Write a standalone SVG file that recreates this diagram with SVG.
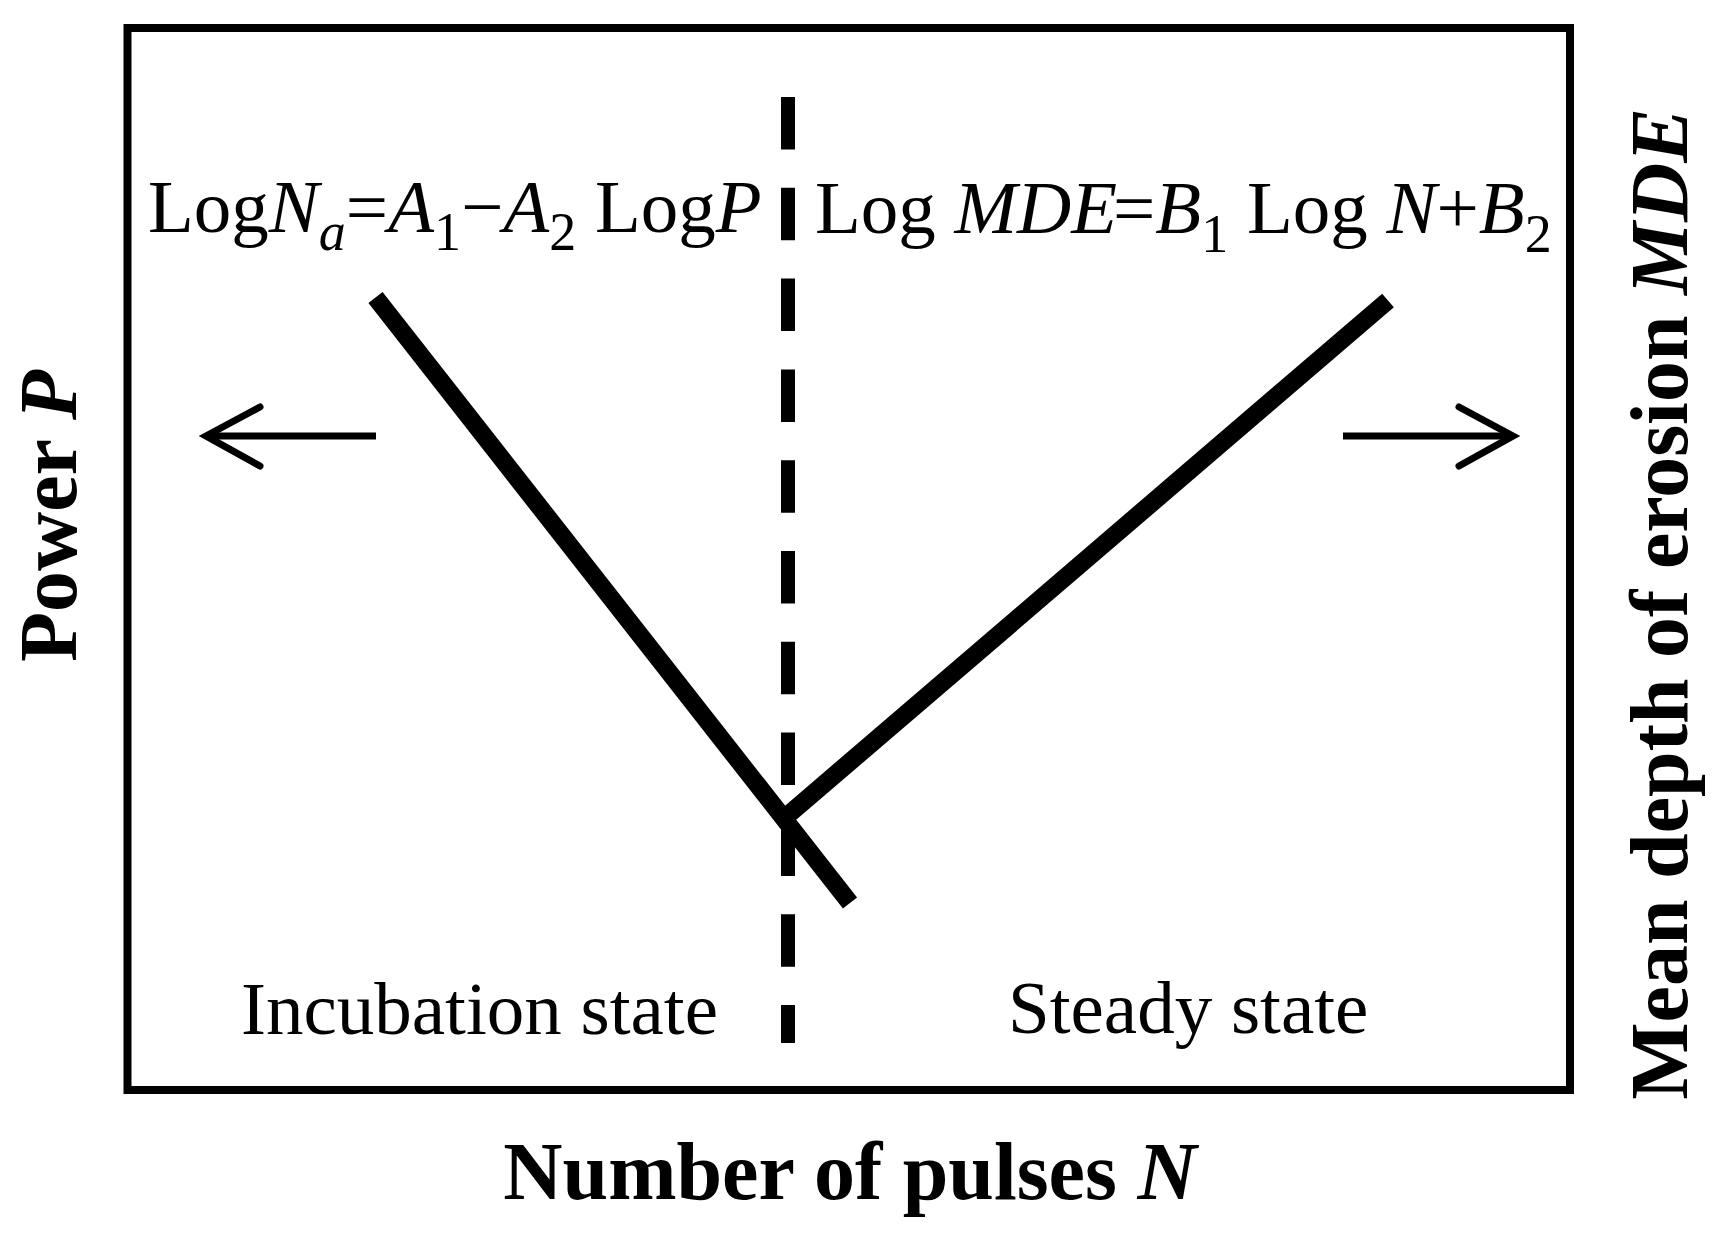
<svg xmlns="http://www.w3.org/2000/svg" width="1716" height="1236" viewBox="0 0 1716 1236">
<style>
.t{font-family:"Liberation Serif","Times New Roman",serif;fill:#000}
.f{font-size:75px}
.b{font-size:82px;font-weight:bold}
.i{font-style:italic}
.s{font-size:54px}
.thick{stroke:#000;stroke-width:18;fill:none;stroke-linecap:butt}
.arr{stroke:#000;stroke-width:7;fill:none}
</style>
<rect width="1716" height="1236" fill="#fff"/>
<g id="frame">
<rect x="127.5" y="28" width="1442.5" height="1062" fill="none" stroke="#000" stroke-width="8"/>
</g>
<g id="divider">
<line x1="788" y1="97" x2="788" y2="1043" stroke="#000" stroke-width="14" stroke-dasharray="52.5 38.3"/>
</g>
<g id="curves">
<line class="thick" x1="375.5" y1="297.5" x2="850" y2="903"/>
<line class="thick" x1="788" y1="815" x2="1388" y2="300.5"/>
</g>
<g id="arrows">
<line class="arr" x1="376" y1="436" x2="208" y2="436"/>
<polyline class="arr" points="260,407 206,436 260,466" stroke-linecap="round" stroke-linejoin="miter"/>
<line class="arr" x1="1343" y1="436" x2="1510" y2="436"/>
<polyline class="arr" points="1459,407 1513,436 1459,466" stroke-linecap="round" stroke-linejoin="miter"/>
</g>
<g id="formula-left">
<text class="t f" x="148" y="232">Log<tspan class="i">N</tspan><tspan class="i s" dy="18">a</tspan><tspan dy="-18">=</tspan><tspan class="i">A</tspan><tspan class="s" dy="18">1</tspan><tspan dy="-18">−</tspan><tspan class="i">A</tspan><tspan class="s" dy="18">2</tspan><tspan dy="-18"> Log</tspan><tspan class="i">P</tspan></text>
</g>
<g id="formula-right">
<text class="t f" x="815" y="233">Log <tspan class="i">MDE</tspan><tspan dx="-4">=</tspan><tspan class="i">B</tspan><tspan class="s" dy="19">1</tspan><tspan dy="-19"> Log </tspan><tspan class="i">N</tspan>+<tspan class="i">B</tspan><tspan class="s" dy="19">2</tspan></text>
</g>
<g id="label-incubation">
<text class="t f" x="241" y="1034">Incubation state</text>
</g>
<g id="label-steady">
<text class="t f" x="1008" y="1033">Steady state</text>
</g>
<g id="axis-x">
<text class="t b" x="850" y="1199" text-anchor="middle" font-size="84">Number of pulses <tspan class="i">N</tspan></text>
</g>
<g id="axis-left">
<text class="t b" transform="translate(76,516) rotate(-90)" text-anchor="middle">Power <tspan class="i">P</tspan></text>
</g>
<g id="axis-right">
<text class="t b" transform="translate(1687,604) rotate(-90)" text-anchor="middle" font-size="83">Mean depth of erosion <tspan class="i">MDE</tspan></text>
</g>
</svg>
